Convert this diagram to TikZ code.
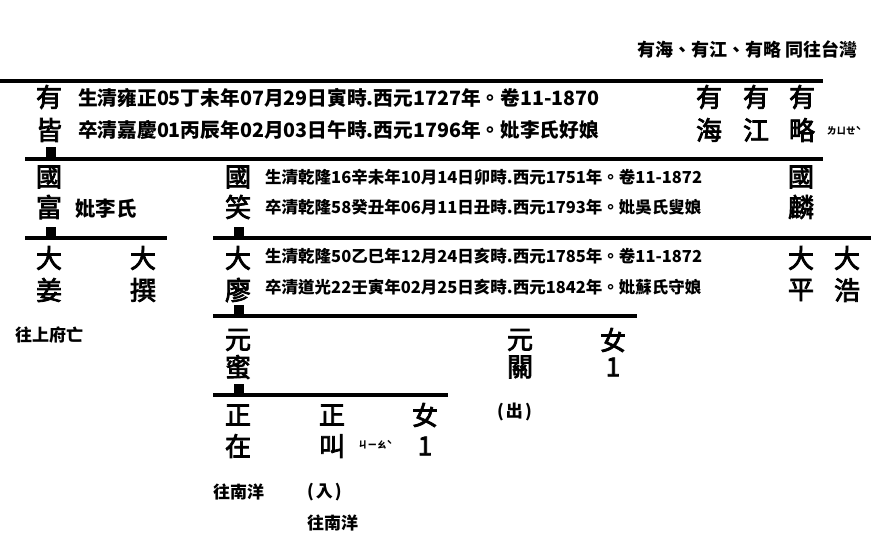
\documentclass[tikz,border=0pt]{standalone}
\usepackage{fontspec}
\newfontfamily\cjk{Noto Sans CJK TC}
\newfontfamily\cjkm{Noto Sans CJK TC}[UprightFeatures={FakeBold=3}]
\tikzset{
  gen/.style={font=\cjkm\fontsize{26}{26}\selectfont, inner sep=0pt},
  info/.style={font=\cjk\bfseries\fontsize{19.7}{19.7}\selectfont, inner sep=0pt, anchor=west},
  infos/.style={font=\cjk\bfseries\fontsize{16.5}{16.5}\selectfont, inner sep=0pt, anchor=west},
  note/.style={font=\cjk\bfseries\fontsize{17}{17}\selectfont, inner sep=0pt, anchor=west},
  zhuyin/.style={font=\cjk\bfseries\fontsize{9.5}{9.5}\selectfont, inner sep=0pt, anchor=west},
  bar/.style={line width=4pt},
  link/.style={fill=black, minimum width=10pt, minimum height=10pt, inner sep=0pt, draw=none},
}
\begin{document}
\begin{tikzpicture}[x=1pt,y=-1pt]
\useasboundingbox (0,0) rectangle (881,536);
% top note
\node[note, anchor=east, font=\cjk\bfseries\fontsize{18}{18}\selectfont] (tw) at (858,50) {有海、有江、有略 同往台灣};
% bars
\coordinate (b1s) at (0,81);   \coordinate (b1e) at (823,81);
\coordinate (b2s) at (25,159); \coordinate (b2e) at (823,159);
\coordinate (b3s) at (25,238); \coordinate (b3e) at (167,238);
\coordinate (b4s) at (213,238);\coordinate (b4e) at (871,238);
\coordinate (b5s) at (213,316);\coordinate (b5e) at (637,316);
\coordinate (b6s) at (213,395);\coordinate (b6e) at (448,395);
\draw[bar] (b1s) -- (b1e);
\draw[bar] (b2s) -- (b2e);
\draw[bar] (b3s) -- (b3e);
\draw[bar] (b4s) -- (b4e);
\draw[bar] (b5s) -- (b5e);
\draw[bar] (b6s) -- (b6e);
% generation 1
\node[gen] (g1a) at (49,97) {有};
\node[gen] (g1b) at (49,130) {皆};
\node[info] (t1a) at (78,98) {生清雍正05丁未年07月29日寅時.西元1727年。卷11-1870};
\node[info] (t1b) at (78,130) {卒清嘉慶01丙辰年02月03日午時.西元1796年。妣李氏好娘};
\node[gen] (h1a) at (709,97) {有};
\node[gen] (h1b) at (709,130) {海};
\node[gen] (j1a) at (756,97) {有};
\node[gen] (j1b) at (756,130) {江};
\node[gen] (l1a) at (802,97) {有};
\node[gen] (l1b) at (802,130) {略};
\node[zhuyin] (zl) at (827,131) {ㄌㄩㄝˋ};
\node[link] (s1) at (50.5,152) {};
% generation 2
\node[gen] (g2a) at (49,177) {國};
\node[gen] (g2b) at (49,207) {富};
\node[info, font=\cjk\bfseries\fontsize{20.5}{20.5}\selectfont] (f2) at (75,209) {妣李氏};
\node[gen] (x2a) at (238,177) {國};
\node[gen] (x2b) at (238,207) {笑};
\node[infos] (t2a) at (265,177) {生清乾隆16辛未年10月14日卯時.西元1751年。卷11-1872};
\node[infos] (t2b) at (265,207) {卒清乾隆58癸丑年06月11日丑時.西元1793年。妣吳氏叟娘};
\node[gen] (q2a) at (801,177) {國};
\node[gen] (q2b) at (801,207) {麟};
\node[link] (s2) at (50.5,232) {};
\node[link] (s3) at (238.5,232) {};
% generation 3
\node[gen] (g3a) at (49,258) {大};
\node[gen] (g3b) at (49,290) {姜};
\node[gen] (z3a) at (143,258) {大};
\node[gen] (z3b) at (143,290) {撰};
\node[gen] (m3a) at (238,258) {大};
\node[gen] (m3b) at (238,290) {廖};
\node[infos] (t3a) at (265,256) {生清乾隆50乙巳年12月24日亥時.西元1785年。卷11-1872};
\node[infos] (t3b) at (265,287) {卒清道光22壬寅年02月25日亥時.西元1842年。妣蘇氏守娘};
\node[gen] (p3a) at (801,258) {大};
\node[gen] (p3b) at (801,290) {平};
\node[gen] (h3a) at (847,258) {大};
\node[gen] (h3b) at (847,290) {浩};
\node[note] (n3) at (15,335) {往上府亡};
\node[link] (s4) at (238.5,310) {};
% generation 4
\node[gen] (y4a) at (238,340) {元};
\node[gen] (y4b) at (238,367) {蜜};
\node[gen] (k4a) at (520,340) {元};
\node[gen] (k4b) at (520,367) {關};
\node[gen] (d4a) at (613,340) {女};
\node[gen] (d4b) at (613,367) {1};
\node[note] (o4) at (497,412) {(\kern2pt 出\kern2pt)};
\node[link] (s5) at (238.5,389) {};
% generation 5
\node[gen] (a5a) at (238,415) {正};
\node[gen] (a5b) at (238,446) {在};
\node[gen] (b5a) at (332,415) {正};
\node[gen] (b5b) at (332,446) {叫};
\node[zhuyin] (zj) at (358,445) {ㄐㄧㄠˋ};
\node[gen] (c5a) at (425,415) {女};
\node[gen] (c5b) at (425,446) {1};
\node[note] (n5a) at (213,492) {往南洋};
\node[note] (n5b) at (307,492) {(\kern2pt 入\kern2pt)};
\node[note] (n5c) at (307,523) {往南洋};
\end{tikzpicture}
\end{document}
